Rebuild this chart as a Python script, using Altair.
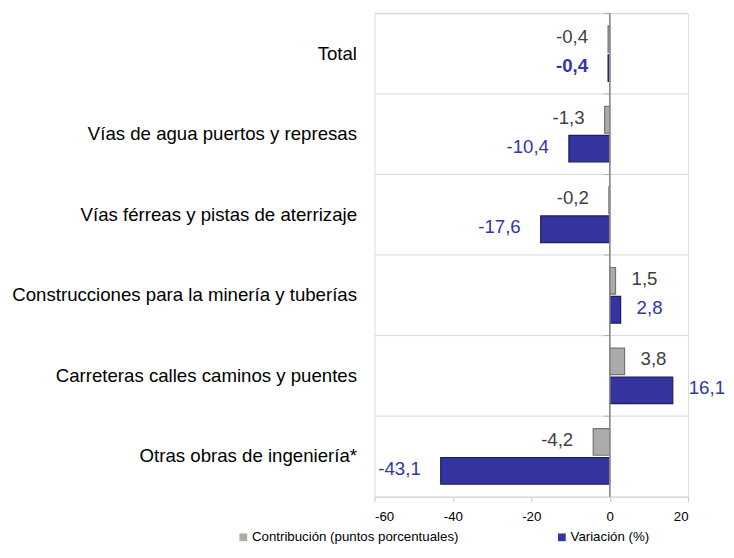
import altair as alt
import pandas as pd

categorias = [
    "Total",
    "Vías de agua puertos y represas",
    "Vías férreas y pistas de aterrizaje",
    "Construcciones para la minería y tuberías",
    "Carreteras calles caminos y puentes",
    "Otras obras de ingeniería*",
]
contribucion = [-0.4, -1.3, -0.2, 1.5, 3.8, -4.2]
variacion = [-0.4, -10.4, -17.6, 2.8, 16.1, -43.1]
series = ["Contribución (puntos porcentuales)", "Variación (%)"]
x_ticks = [-60, -40, -20, 0, 20]

rows = []
for c, a, b in zip(categorias, contribucion, variacion):
    for s, v in zip(series, [a, b]):
        rows.append({"cat": c, "serie": s, "value": v,
                     "label": f"{v:.1f}".replace(".", ","),
                     "bold": (c == "Total" and s == series[1])})
df = pd.DataFrame(rows)
cats_df = pd.DataFrame({"cat": categorias, "z": [0] * len(categorias)})

W, H = 314, 484
FONT = "Liberation Sans"

yscale = alt.Scale(domain=categorias, paddingInner=0, paddingOuter=0)
yoff_scale = alt.Scale(domain=series, paddingInner=0.08, paddingOuter=0.43)
xscale = alt.Scale(domain=[-60, 20], nice=False, zero=False)

Y = alt.Y("cat:N", scale=yscale, sort=categorias,
          axis=alt.Axis(title=None, domain=False, ticks=False, grid=False,
                        labelFont=FONT, labelFontSize=18.67, labelColor="#000000",
                        labelPadding=18, labelLimit=500))
X = alt.X("value:Q", scale=xscale,
          axis=alt.Axis(title=None, values=x_ticks, grid=False,
                        labelFont=FONT, labelFontSize=13.3, labelColor="#000000",
                        labelExpr="datum.value + ''", labelPadding=8,
                        domainColor="#d0d0d0", tickColor="#c8c8c8", tickSize=5))
YO = alt.YOffset("serie:N", scale=yoff_scale, sort=series)

base = alt.Chart(df)

grid = alt.Chart(cats_df).mark_rule(color="#d9d9d9", strokeWidth=1).encode(
    y=alt.Y("cat:N", scale=yscale, sort=categorias, bandPosition=0),
    x=alt.value(0), x2=alt.value(W))

zero_ticks = alt.Chart(cats_df).mark_tick(orient="horizontal", size=6, thickness=1,
                                          color="#9a9a9a", xOffset=-3).encode(
    y=alt.Y("cat:N", scale=yscale, sort=categorias, bandPosition=0),
    x=alt.X("z:Q", scale=xscale))

zero = alt.Chart(cats_df).mark_rule(color="#8a8a8a", strokeWidth=1).encode(
    x=alt.X("z:Q", scale=xscale), y=alt.value(0), y2=alt.value(H))

bars = base.mark_bar(strokeWidth=1.2).encode(
    y=Y, x=X, yOffset=YO,
    stroke=alt.condition(alt.datum.serie == series[1], alt.value("#1e1e5a"), alt.value("#747474")),
    color=alt.Color("serie:N", sort=series,
                    scale=alt.Scale(domain=series, range=["#ababab", "#3434a0"]),
                    legend=alt.Legend(title=None, orient="none", direction="horizontal",
                                      legendX=-138, legendY=518, padding=0,
                                      symbolType="square", symbolSize=60,
                                      symbolStrokeWidth=0, labelOffset=2,
                                      columnPadding=96, labelLimit=400,
                                      labelFont=FONT, labelFontSize=13.3,
                                      labelColor="#000000")))

txt_color = alt.condition(alt.datum.serie == series[1], alt.value("#3535a5"), alt.value("#404040"))

neg = base.transform_filter("datum.value < 0 && !datum.bold").mark_text(
    align="right", dx=-20, dy=-2, font=FONT, fontSize=18.67).encode(
    y=Y, x=X, yOffset=YO, text="label:N", color=txt_color)
pos = base.transform_filter("datum.value >= 0").mark_text(
    align="left", dx=16, dy=-2, font=FONT, fontSize=18.67).encode(
    y=Y, x=X, yOffset=YO, text="label:N", color=txt_color)
boldt = base.transform_filter("datum.bold").mark_text(
    align="right", dx=-20, dy=-2, font=FONT, fontSize=18.67, fontWeight="bold").encode(
    y=Y, x=X, yOffset=YO, text="label:N", color=txt_color)

chart = alt.layer(bars, grid, zero, zero_ticks, neg, pos, boldt).properties(
    width=W, height=H,
    padding={"left": 3, "top": 4, "right": 0, "bottom": 0},
).configure_view(stroke=None).configure(background="white")

chart.save("out.html", embed_options={"renderer": "svg", "actions": False})
